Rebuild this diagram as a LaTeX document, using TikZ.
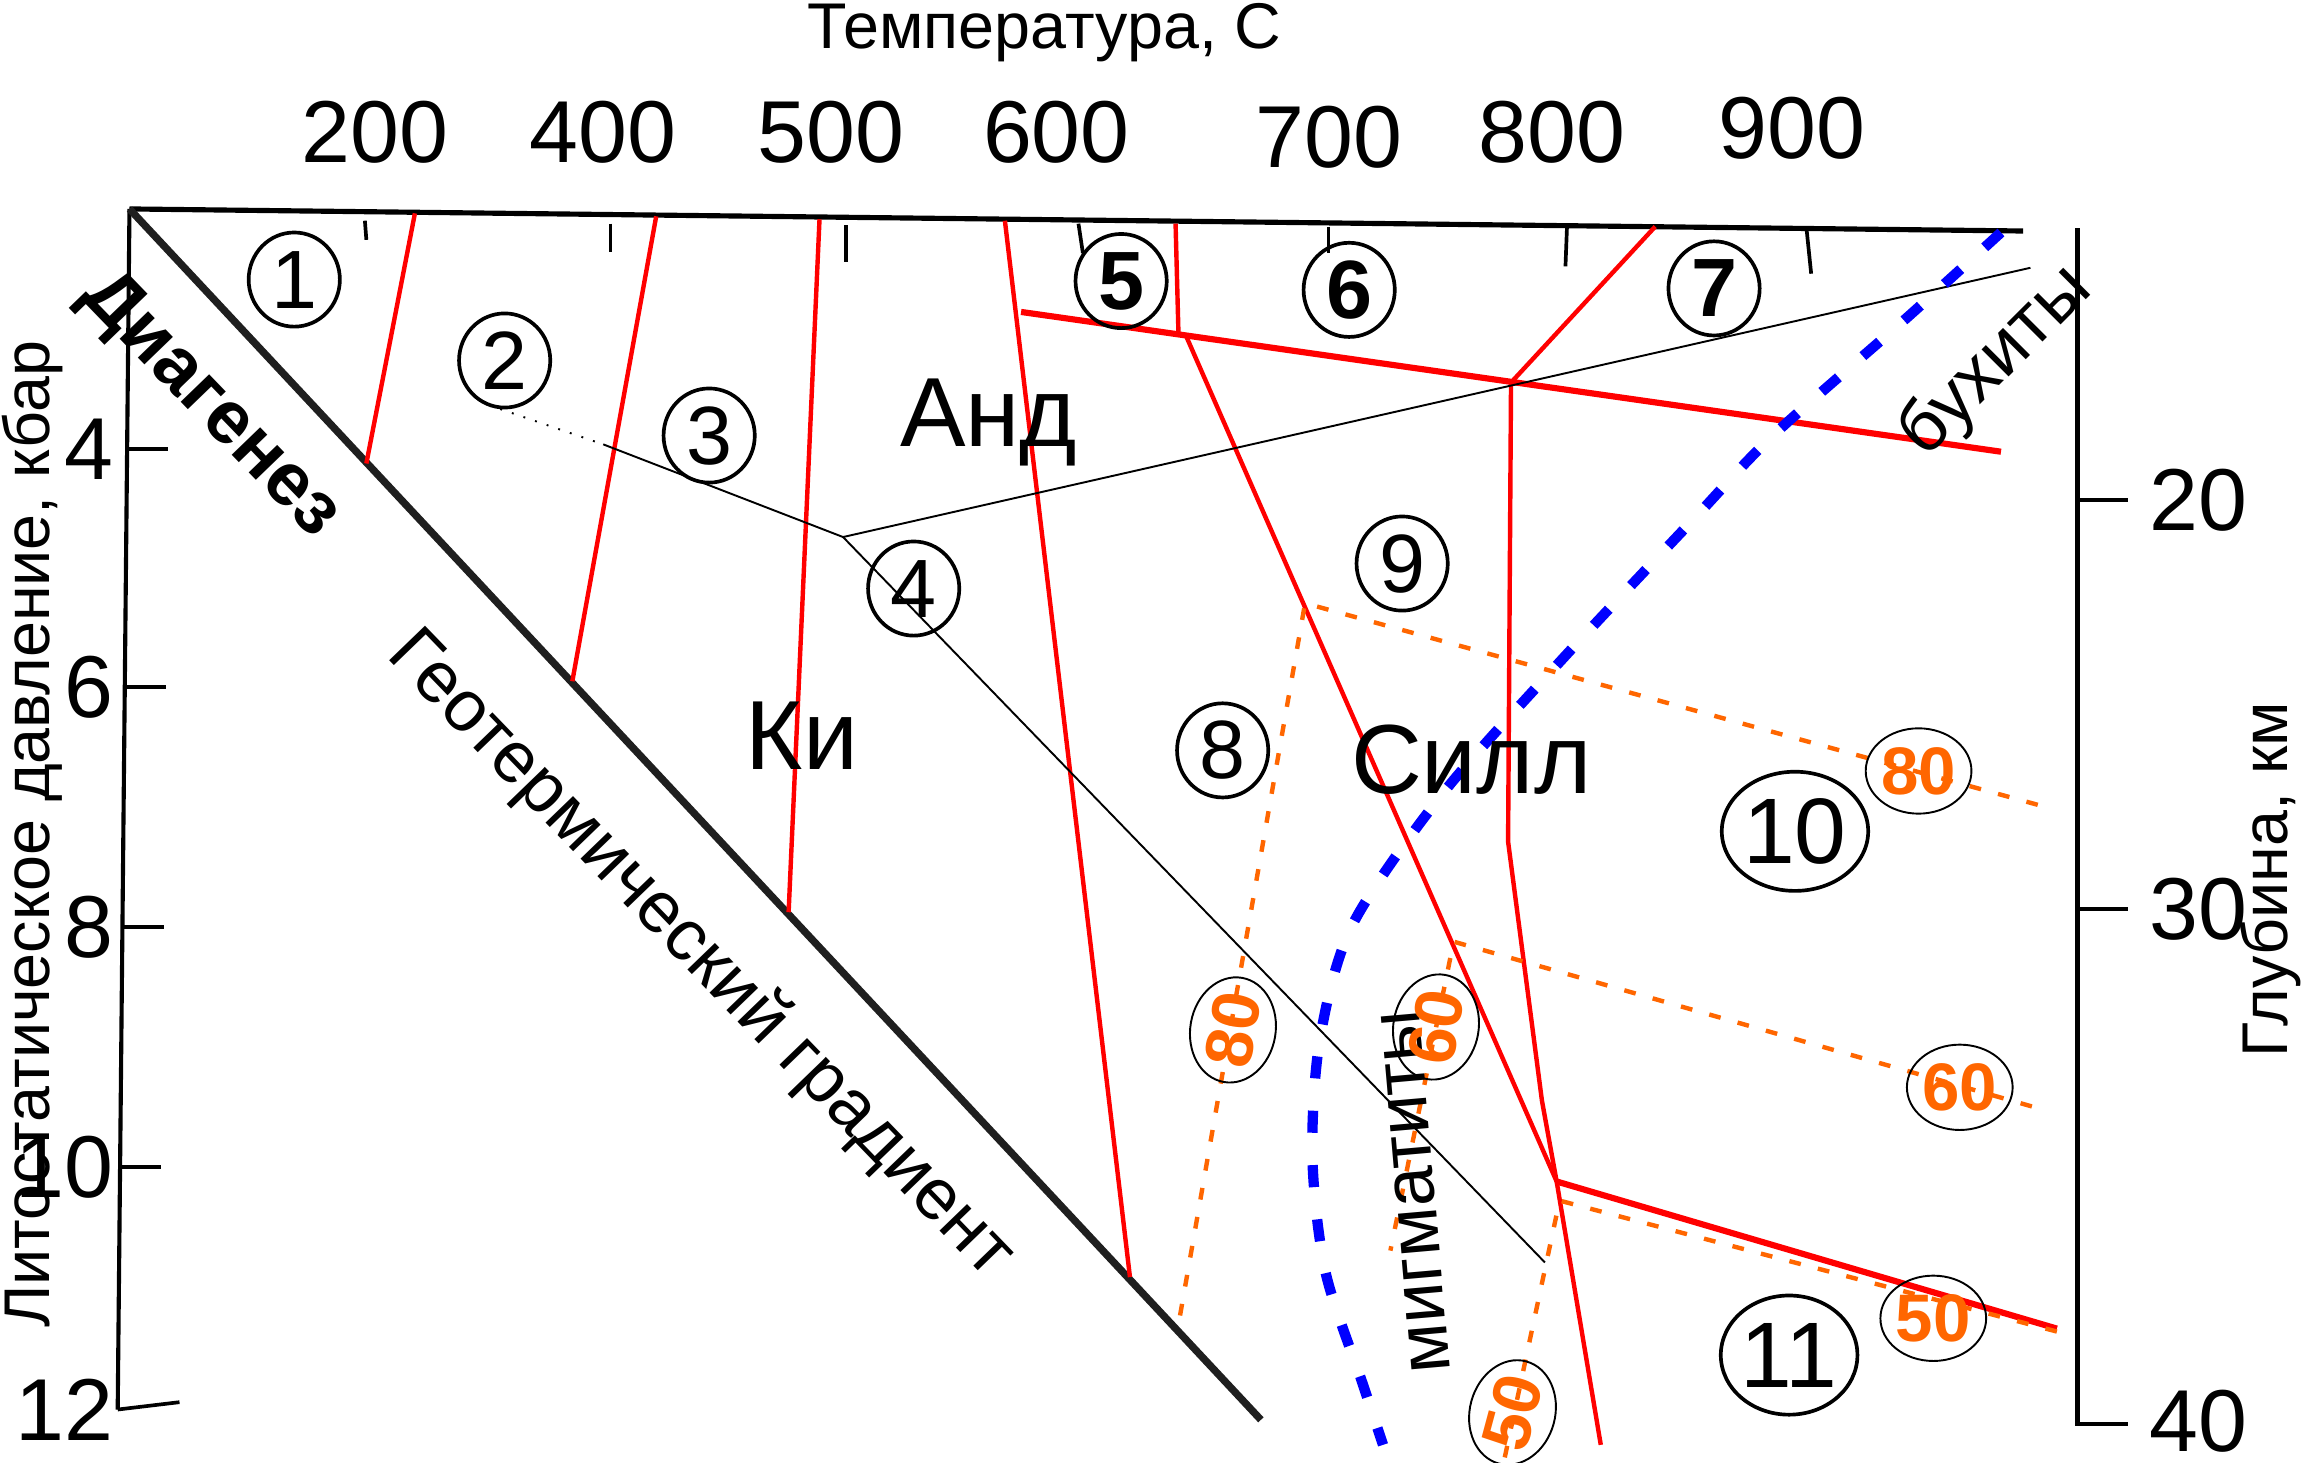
\documentclass[tikz,border=0pt]{standalone}
\usepackage{fontspec}
\setmainfont{Liberation Sans}
\usetikzlibrary{shapes.geometric, positioning, calc}
\definecolor{isoorange}{HTML}{FF6600}
\tikzset{
  reactline/.style={draw=red, line width=0.3mm},
  reactthick/.style={draw=red, line width=0.42mm},
  faciesline/.style={draw=black, line width=0.13mm},
  isograd/.style={draw=isoorange, line width=0.3mm, dash pattern=on 0.8mm off 1.2mm},
  meltcurve/.style={draw=blue, line width=0.7mm, dash pattern=on 1.5mm off 2.2mm},
  zone/.style={draw, ellipse, line width=0.25mm, inner sep=0pt,
    minimum width=6.2mm, minimum height=6.4mm, font=\fontsize{16}{16}\selectfont},
  bigzone/.style={zone, minimum width=8mm, minimum height=8.1mm,
    font=\fontsize{18}{18}\selectfont},
  isolabel/.style={draw, ellipse, line width=0.13mm, inner sep=0pt,
    minimum width=6.4mm, minimum height=5.8mm, text=isoorange,
    font=\bfseries\fontsize{13}{13}\selectfont}
}

\begin{document}
\begin{tikzpicture}[x=0.1mm, y=-0.1mm,
  axisnum/.style={font=\fontsize{17}{17}\selectfont, inner sep=0pt},
  axistitle/.style={font=\fontsize{12.5}{12.5}\selectfont, inner sep=0pt},
  facies/.style={font=\fontsize{19}{19}\selectfont},
  note/.style={font=\fontsize{14}{14}\selectfont}
]
\useasboundingbox (0,0) rectangle (1568,994);

% Оси
\coordinate (O) at (88,142);
\draw[line width=0.35mm] (O) -- (1375,157);
\draw[line width=0.28mm] (O) -- (80,958);
\draw[line width=0.3mm] (1412,155) -- (1412,968) -- (1446,968);
\foreach \y in {340,618} \draw[line width=0.25mm] (1412,\y) -- (1446,\y);
\foreach \x/\a/\xb/\b in {248/150/249/163, 415/152/415/171, 575/153/575/178,
  733/152/736/172, 903/154/903/172, 1065/155/1064/181, 1228/157/1231/186}
  \draw[line width=0.25mm] (\x,\a) -- (\xb,\b);
\foreach \y in {305,467,630,793}
  \draw[line width=0.25mm] ({88-8*(\y-142)/816},\y) -- +(28,0);
\draw[line width=0.25mm] (80,958) -- (122,953);

% Подписи осей
\node[axistitle, anchor=base] (ttl) at (710,33) {Температура, C};
\foreach \x/\y/\t in {255/90/200, 410/90/400, 565/90/500, 718/90/600,
  903/93/700, 1055/90/800, 1218/87/900}
  \node[axisnum] (t\t) at (\x,\y) {\t};
\foreach \y/\t in {305/4, 467/6, 630/8, 793/10, 958/12}
  \node[axisnum, anchor=east] (p\t) at (78,\y) {\t};
\foreach \y/\t in {340/20, 618/30, 966/40}
  \node[axisnum, anchor=west] (d\t) at (1460,\y) {\t};
\node[axistitle, rotate=90] (plabel) at (22,567) {Литостатическое давление, кбар};
\node[axistitle, rotate=90] (dlabel) at (1543,598) {Глубина, км};

% Геотермический градиент
\draw[line width=0.5mm, black!88] (O) -- (857,965);
\node[note, rotate=-46] (geo) at (476,649) {Геотермический градиент};
\node[note, font=\bfseries\fontsize{14.5}{14.5}\selectfont, rotate=-46] (diag) at (143,276) {Диагенез};

% Линии реакций
\draw[reactline] (282,145) -- (249,315);
\draw[reactline] (446,147) -- (389,463);
\draw[reactline] (557,149) -- (536,620);
\draw[reactline] (683,150) -- (768,868);
\draw[reactline] (799,152) -- (801,228);
\coordinate (T1) at (1027,260);
\coordinate (T2) at (1058,803);
\draw[reactthick] (694,212) -- (1360,307);
\draw[reactline] (806,228) -- (T2);
\draw[reactline] (1125,154) -- (T1);
\draw[reactline] (T1) -- (1025,572) -- (1048,748) -- (T2) -- (1088,982);
\draw[reactthick] (T2) -- (1398,903);

% Границы фаций
\coordinate (K) at (573,365);
\draw[faciesline, dotted] (340,278) -- (410,302);
\draw[faciesline] (410,302) -- (K) -- (1380,182);
\draw[faciesline] (K) -- (1050,858);

% Изограды
\coordinate (P80) at (887,410);
\coordinate (P60) at (988,640);
\coordinate (P50) at (1060,816);
\draw[isograd] (1385,547) -- (P80) -- (801,900);
\draw[isograd] (1381,752) -- (P60) -- (945,850);
\draw[isograd] (1398,905) -- (P50) -- (1022,994);

% Начало плавления
\draw[meltcurve] plot[smooth] coordinates {(1360,158) (1296,216) (1205,296)
  (1150,354) (1060,450) (980,540) (919,629) (897,707) (892,787) (901,865)
  (926,940) (940,982)};

% Поля
\node[zone] (z1) at (200,190) {1};
\node[zone] (z2) at (343,245) {2};
\node[zone] (z3) at (482,296) {3};
\node[zone] (z4) at (621,400) {4};
\node[zone, font=\bfseries\fontsize{16}{16}\selectfont] (z5) at (762,191) {5};
\node[zone, font=\bfseries\fontsize{16}{16}\selectfont] (z6) at (917,197) {6};
\node[zone, font=\bfseries\fontsize{16}{16}\selectfont] (z7) at (1165,196) {7};
\node[zone] (z8) at (831,510) {8};
\node[zone] (z9) at (953,383) {9};
\node[bigzone] (z10) at (1220,565) {10};
\node[bigzone, minimum width=7.4mm] (z11) at (1216,921) {11};

\node[facies] (and) at (672,287) {Анд};
\node[facies] (ki) at (545,500) {Ки};
\node[facies] (sill) at (1000,516) {Силл};
\node[note, rotate=45] (bux) at (1357,246) {бухиты};
\node[note, rotate=95] (migm) at (962,810) {мигматиты};

% Метки изоград
\node[isolabel] (i80a) at (1304,524) {80};
\node[isolabel, rotate=80] (i80b) at (838,700) {80};
\node[isolabel, rotate=80] (i60a) at (976,698) {60};
\node[isolabel] (i60b) at (1332,739) {60};
\node[isolabel] (i50a) at (1314,896) {50};
\node[isolabel, rotate=75] (i50b) at (1028,960) {50};
\end{tikzpicture}
\end{document}
